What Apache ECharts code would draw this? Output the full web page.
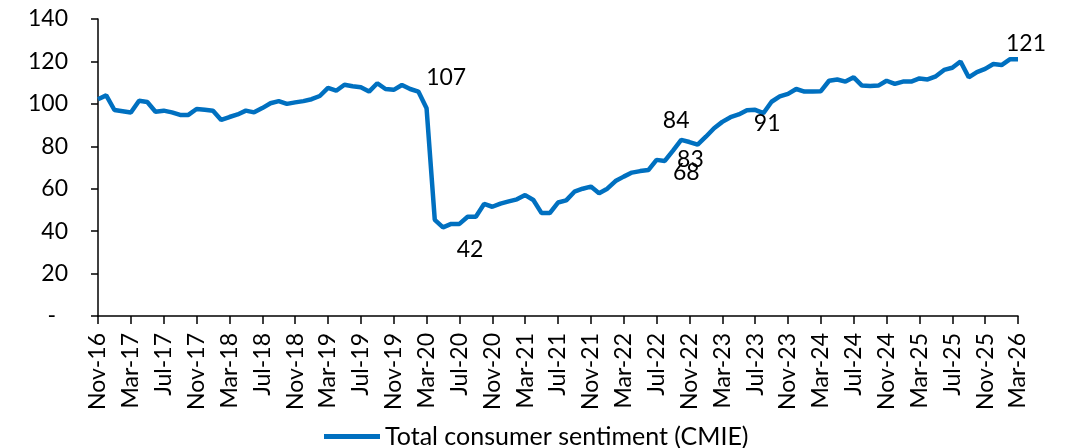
<!DOCTYPE html>
<html>
<head>
<meta charset="utf-8">
<script src="https://cdn.jsdelivr.net/npm/echarts@6/dist/echarts.min.js"></script>
<style>
html, body { margin: 0; padding: 0; background: #fff; }
#main { width: 1074px; height: 448px; }
</style>
</head>
<body>
<div id="main"></div>
<script>
// months Nov-16 .. Mar-26
var monthNames = ['Jan', 'Feb', 'Mar', 'Apr', 'May', 'Jun', 'Jul', 'Aug', 'Sep', 'Oct', 'Nov', 'Dec'];
var firstYear = 2016, firstMonth = 10, monthCount = 113;

// Total consumer sentiment (CMIE)
var sentiment = [
	102.2, 104, 97.1, 96.5, 95.9, 101.5, 100.9, 96.3, 96.8, 96, 94.8, 94.8,
	97.6, 97.2, 96.8, 92.4, 93.8, 95, 96.8, 96, 98, 100.3, 101.3, 100,
	100.7, 101.3, 102.2, 103.7, 107.5, 106.2, 109, 108.3, 107.8, 105.8, 109.7, 107,
	106.6, 108.9, 107, 105.8, 97.9, 45.3, 41.8, 43.4, 43.4, 46.8, 46.8, 52.8,
	51.5, 53, 54, 55, 57, 54.7, 48.5, 48.5, 53.5, 54.5, 58.6, 60,
	61, 57.9, 60, 63.6, 65.7, 67.6, 68.3, 68.8, 73.6, 73.1, 78, 83,
	82, 80.8, 84.5, 88.5, 91.5, 93.7, 95, 97, 97.2, 95.6, 101, 103.5,
	104.7, 107, 105.8, 105.8, 106, 110.9, 111.5, 110.5, 112.5, 108.6, 108.4, 108.6,
	110.9, 109.4, 110.5, 110.5, 112, 111.5, 113, 116, 117, 120, 112.5, 115,
	116.5, 118.8, 118.3, 121, 121
];

// data labels shown on the chart
var calloutIndex = [38, 42, 71, 72, 67, 80, 112];
var calloutText = ['107', '42', '84', '83', '68', '91', '121'];

var yMin = 0, yMax = 140, yStep = 20;

var categories = [];
for (var i = 0; i < monthCount; i++) {
	var m = (firstMonth + i) % 12;
	var y = firstYear + Math.floor((firstMonth + i) / 12);
	categories.push(monthNames[m] + '-' + String(y).slice(2));
}

var FONT = 'Lato';

// label offsets from the point (px)
var calloutOffset = [[36, -11], [27, 22], [-5, -19], [1, 18], [38, 3], [12, 14], [8, -16]];

var seriesData = sentiment.map(function (v, idx) {
	var k = calloutIndex.indexOf(idx);
	if (k < 0) return v;
	return {
		value: v,
		label: {
			show: true,
			position: 'inside',
			offset: calloutOffset[k],
			formatter: calloutText[k],
			color: '#000',
			fontSize: 23,
			fontFamily: FONT
		}
	};
});

var chart = echarts.init(document.getElementById('main'));
var option = {
	animation: false,
	textStyle: { fontFamily: FONT, color: '#000' },
	grid: { left: 98, right: 56, top: 19, bottom: 132 },
	legend: {
		left: 319,
		top: 419,
		icon: 'rect',
		itemWidth: 56,
		itemHeight: 5,
		textStyle: { fontSize: 25, color: '#000', fontFamily: FONT },
		data: ['Total consumer sentiment (CMIE)']
	},
	xAxis: {
		type: 'category',
		data: categories,
		boundaryGap: false,
		axisLine: { lineStyle: { color: '#000', width: 1.5 } },
		axisTick: { show: true, interval: 3, length: 8, lineStyle: { color: '#000', width: 1.5 } },
		axisLabel: { interval: 3, rotate: 90, margin: 17, fontSize: 23, color: '#000', fontFamily: FONT },
		splitLine: { show: false }
	},
	yAxis: {
		type: 'value',
		min: yMin,
		max: yMax,
		interval: yStep,
		axisLine: { show: true, lineStyle: { color: '#000', width: 1.5 } },
		axisTick: { show: true, length: 7, lineStyle: { color: '#000', width: 1.5 } },
		axisLabel: {
			margin: 30,
			fontSize: 23,
			color: '#000',
			fontFamily: FONT,
			formatter: function (v) { return v === 0 ? '{d|-}' : String(v); },
			rich: { d: { fontSize: 23, fontFamily: FONT, color: '#000', padding: [0, 12, 0, 0] } }
		},
		splitLine: { show: false }
	},
	series: [{
		name: 'Total consumer sentiment (CMIE)',
		type: 'line',
		data: seriesData,
		showSymbol: true,
		showAllSymbol: true,
		symbolSize: 0,
		lineStyle: { color: '#0070C0', width: 4.5 },
		itemStyle: { color: '#0070C0' },
		emphasis: { disabled: true }
	}]
};
chart.setOption(option);
</script>
</body>
</html>
